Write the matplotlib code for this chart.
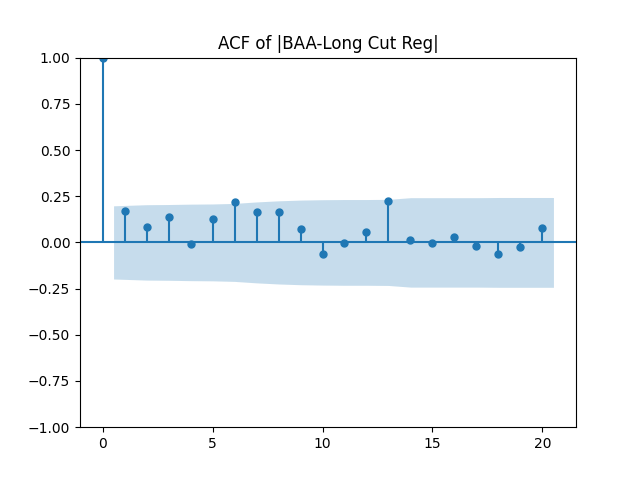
import numpy as np
import matplotlib
matplotlib.use("Agg")
import matplotlib.pyplot as plt

lags = list(range(0, 21))
acf_vals = [1.0, 0.171, 0.084, 0.138, -0.008, 0.127, 0.220, 0.165, 0.165, 0.073,
            -0.062, -0.003, 0.057, 0.225, 0.014, -0.003, 0.030, -0.019, -0.062, -0.024, 0.079]
band = [0.198, 0.204, 0.205, 0.207, 0.208, 0.211, 0.219, 0.225, 0.229, 0.231,
        0.232, 0.232, 0.233, 0.242, 0.242, 0.242, 0.242, 0.243, 0.243, 0.243]

fig, ax = plt.subplots(figsize=(6.4, 4.8), dpi=100)
x = np.array(lags, dtype=float)
ax.vlines(x, 0, acf_vals, colors="C0")
ax.axhline(0, color="C0")
ax.plot(x, acf_vals, marker="o", markersize=5, linestyle="None", color="C0")
fx = x[1:].copy()
fx[0] -= 0.5
fx[-1] += 0.5
b = np.array(band)
ax.fill_between(fx, -b, b, alpha=0.25, linewidth=0, color="C0")
ax.margins(0.05)
ax.set_ylim(-1, 1)
ax.set_title("ACF of |BAA-Long Cut Reg|")
fig.savefig("out.png")
